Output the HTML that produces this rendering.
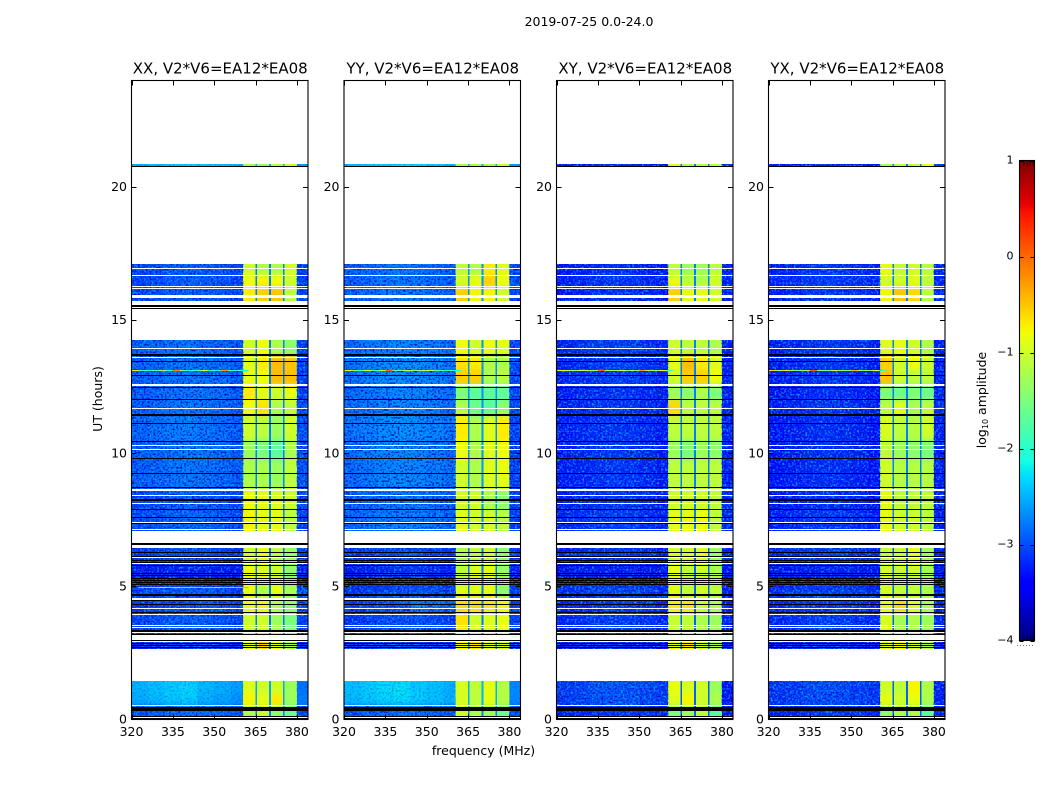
<!DOCTYPE html>
<html lang="en">
<head>
<meta charset="utf-8">
<title>2019-07-25 0.0-24.0</title>
<style>
  html, body { margin: 0; padding: 0; background: #fff; }
  #figure { display: block; width: 1050px; height: 800px; font-family: "DejaVu Sans", "Liberation Sans", sans-serif; }
  text { fill: #000; }
</style>
</head>
<body>
<svg id="figure" xmlns="http://www.w3.org/2000/svg" width="1050" height="800" viewBox="0 0 1050 800">
  <defs id="figure-defs">
    <filter id="grain-light" x="0" y="0" width="1" height="1" color-interpolation-filters="sRGB">
      <feTurbulence type="fractalNoise" baseFrequency="0.52" numOctaves="1" seed="3"/>
      <feColorMatrix type="matrix" values="0 0 0 0 0  0 0 0 0 0.62  0 0 0 0 1  3.6 0 0 0 -1.6"/>
    </filter>
    <filter id="grain-dark" x="0" y="0" width="1" height="1" color-interpolation-filters="sRGB">
      <feTurbulence type="fractalNoise" baseFrequency="0.52" numOctaves="1" seed="11"/>
      <feColorMatrix type="matrix" values="0 0 0 0 0  0 0 0 0 0.04  0 0 0 0 0.8  3.6 0 0 0 -1.7"/>
    </filter>
    <filter id="time-smooth" filterUnits="userSpaceOnUse" x="0" y="0" width="1050" height="800" color-interpolation-filters="sRGB">
      <feGaussianBlur stdDeviation="0 3"/>
    </filter>
  </defs>
  <rect x="0" y="0" width="1050" height="800" fill="#fff"/>
  <text x="589" y="26" font-size="12.5" text-anchor="middle">2019-07-25 0.0-24.0</text>
  <text x="483.5" y="755" font-size="12.5" text-anchor="middle">frequency (MHz)</text>
  <text x="0" y="0" font-size="12.5" text-anchor="middle" transform="translate(102 399) rotate(-90)">UT (hours)</text>
  <text x="0" y="0" font-size="12.5" text-anchor="middle" transform="translate(986 400) rotate(-90)">log<tspan font-size="8" dy="2">10</tspan><tspan dy="-2"> amplitude</tspan></text>
  <g id="panels"></g>
  <g id="colorbar"></g>
</svg>

<script>
// ---- chart data ----
const panelTitles = ["XX, V2*V6=EA12*EA08", "YY, V2*V6=EA12*EA08", "XY, V2*V6=EA12*EA08", "YX, V2*V6=EA12*EA08"];
const freqTicks = [320, 335, 350, 365, 380];
const hourTicks = [0, 5, 10, 15, 20];
const colorbarTicks = [1, 0, -1, -2, -3, -4];
const colorbarMinorTicks = [0.3, 0.5, 0.7, 0.9];

// frequency band edges (MHz) of the heatmap columns
const freqEdges = [320, 326, 332, 338, 344, 350, 356, 360.5, 364.9, 365.5, 369.9, 370.5, 374.9, 375.5, 380, 384];
// which slot of a row holds each column's value: low1 x3, low1/low2 x4, A, gap, B, gap, C, gap, D, right
const columnSlots = [0, 0, 0, 0, 1, 1, 1, 2, 7, 3, 7, 4, 7, 5, 6];
// bandpass shape added to each column (log10 amplitude)
const columnOffsets = [-0.08, -0.02, 0.05, 0.08, 0.06, 0.0, -0.08, 0, 0, 0, 0, 0, 0, 0, 0];

// time bands (hours) that contain data, bottom to top
const bandStarts = [0, 0.51, 0.95, 2.65, 3.29, 4.04, 4.56, 5.05, 5.80, 7.08, 7.87, 8.62, 9.75, 10.50, 11.44, 12.00, 12.56, 13.13, 13.69, 15.72, 16.24, 16.69, 20.77];
const bandEnds = [0.51, 0.95, 1.45, 3.29, 4.04, 4.56, 5.05, 5.80, 6.46, 7.87, 8.62, 9.75, 10.50, 11.44, 12.00, 12.56, 13.13, 13.69, 14.25, 16.24, 16.69, 17.11, 20.88];

// log10 amplitude per band: low1, low2, A, B, C, D, right, gap
const xxRows = [
  [-2.90,-2.90,-1.20,-1.00,-1.40,-1.60,-3.00,-2.75],
  [-2.42,-2.55,-0.75,-0.85,-0.70,-1.30,-2.75,-2.55],
  [-2.38,-2.50,-0.90,-1.00,-1.00,-1.30,-2.80,-2.55],
  [-3.20,-3.20,-0.90,-0.60,-0.90,-1.20,-3.20,-2.85],
  [-3.00,-3.00,-1.00,-1.00,-1.30,-1.50,-3.10,-2.80],
  [-3.10,-3.00,-0.85,-0.75,-1.20,-1.40,-3.00,-2.80],
  [-3.00,-3.00,-0.85,-1.20,-0.85,-1.20,-3.00,-2.80],
  [-3.40,-3.40,-0.80,-0.90,-1.00,-1.40,-3.30,-2.85],
  [-3.10,-3.10,-1.00,-0.85,-1.10,-1.30,-3.10,-2.80],
  [-2.95,-2.95,-0.75,-0.85,-0.85,-1.10,-3.10,-2.75],
  [-3.00,-3.00,-0.80,-0.85,-0.90,-1.00,-3.00,-2.75],
  [-2.85,-2.85,-1.20,-1.20,-1.30,-1.10,-3.00,-2.75],
  [-2.85,-2.85,-1.30,-1.50,-1.70,-1.20,-3.00,-2.75],
  [-2.80,-2.85,-1.00,-1.10,-1.30,-1.00,-3.00,-2.75],
  [-2.85,-2.85,-0.80,-0.65,-1.20,-1.10,-3.00,-2.75],
  [-2.85,-2.85,-0.70,-0.90,-1.00,-0.85,-3.10,-2.75],
  [-2.85,-2.85,-0.85,-0.80,-0.45,-0.45,-3.10,-2.75],
  [-2.85,-2.85,-0.90,-0.70,-0.45,-0.50,-3.10,-2.75],
  [-2.85,-2.90,-1.00,-0.80,-1.20,-1.40,-3.10,-2.75],
  [-3.00,-3.00,-0.70,-0.55,-0.50,-1.10,-3.10,-2.75],
  [-3.00,-3.00,-0.80,-0.75,-0.80,-1.00,-3.10,-2.75],
  [-3.00,-3.00,-1.00,-1.20,-1.20,-1.00,-3.10,-2.75],
  [-2.40,-2.40,-1.20,-1.30,-1.10,-1.00,-2.60,-2.50]
];
const yyRows = [
  [-2.90,-2.90,-1.00,-1.20,-1.30,-1.60,-3.00,-2.75],
  [-2.35,-2.40,-0.95,-1.10,-0.85,-1.15,-2.70,-2.50],
  [-2.32,-2.40,-0.95,-1.10,-0.85,-1.15,-2.70,-2.50],
  [-3.10,-3.10,-0.80,-0.65,-0.90,-1.00,-3.10,-2.80],
  [-3.10,-3.05,-0.65,-1.00,-0.90,-0.85,-3.10,-2.80],
  [-3.05,-2.80,-0.60,-0.60,-0.65,-0.75,-3.10,-2.75],
  [-3.10,-3.05,-0.90,-0.90,-0.85,-1.40,-3.10,-2.75],
  [-3.30,-3.25,-1.10,-0.90,-0.85,-1.30,-3.30,-2.80],
  [-3.10,-3.10,-1.20,-1.10,-1.00,-1.40,-3.10,-2.80],
  [-2.80,-2.80,-0.90,-1.00,-0.95,-1.10,-3.10,-2.65],
  [-2.85,-2.85,-1.00,-1.00,-1.20,-1.40,-3.10,-2.65],
  [-2.75,-2.75,-1.00,-1.20,-0.90,-0.85,-3.10,-2.65],
  [-2.75,-2.75,-0.80,-1.20,-0.90,-0.80,-3.10,-2.65],
  [-2.70,-2.70,-0.70,-1.20,-0.90,-0.70,-3.05,-2.65],
  [-2.75,-2.75,-1.20,-1.60,-1.70,-1.40,-3.05,-2.65],
  [-2.75,-2.75,-1.50,-1.70,-1.70,-1.70,-3.05,-2.65],
  [-2.70,-2.70,-0.55,-0.55,-1.20,-1.10,-3.05,-2.65],
  [-2.70,-2.70,-0.65,-0.70,-1.20,-1.20,-3.05,-2.65],
  [-2.75,-2.75,-0.80,-1.00,-0.80,-0.85,-3.05,-2.65],
  [-2.85,-2.85,-0.55,-0.75,-0.75,-1.00,-3.05,-2.65],
  [-2.85,-2.85,-1.00,-0.85,-0.55,-0.80,-3.05,-2.65],
  [-2.85,-2.85,-1.10,-1.20,-0.70,-0.90,-3.05,-2.65],
  [-2.35,-2.35,-1.20,-1.20,-1.20,-1.00,-2.60,-2.50]
];
const xyRows = [
  [-3.25,-3.20,-1.50,-1.30,-1.10,-1.70,-3.40,-2.90],
  [-3.05,-3.05,-0.90,-0.75,-1.00,-1.20,-3.40,-2.90],
  [-3.05,-3.05,-0.85,-0.95,-1.00,-1.30,-3.40,-2.90],
  [-3.30,-3.30,-0.90,-0.70,-1.00,-1.20,-3.30,-2.90],
  [-3.20,-3.20,-1.05,-1.10,-1.20,-1.30,-3.30,-2.90],
  [-3.25,-3.20,-0.70,-0.65,-1.00,-1.20,-3.30,-2.90],
  [-3.15,-3.15,-0.90,-1.10,-1.00,-1.10,-3.30,-2.90],
  [-3.45,-3.40,-0.85,-1.10,-1.00,-1.20,-3.40,-2.90],
  [-3.25,-3.25,-0.95,-1.00,-0.90,-1.30,-3.30,-2.90],
  [-3.20,-3.20,-0.85,-0.85,-0.80,-1.10,-3.25,-2.75],
  [-3.25,-3.25,-1.00,-1.00,-1.00,-1.10,-3.25,-2.75],
  [-3.25,-3.25,-1.10,-1.10,-1.10,-1.10,-3.30,-2.75],
  [-3.25,-3.25,-1.30,-1.50,-1.30,-1.40,-3.30,-2.75],
  [-3.25,-3.25,-1.10,-1.10,-1.10,-1.10,-3.30,-2.75],
  [-3.25,-3.25,-0.60,-1.10,-1.10,-1.10,-3.30,-2.75],
  [-3.25,-3.25,-1.30,-1.40,-1.20,-1.50,-3.30,-2.75],
  [-3.20,-3.20,-1.00,-0.55,-0.55,-0.80,-3.30,-2.75],
  [-3.20,-3.20,-0.85,-0.45,-0.70,-0.90,-3.30,-2.75],
  [-3.20,-3.20,-1.00,-1.10,-1.10,-1.20,-3.30,-2.75],
  [-3.30,-3.30,-0.55,-0.85,-0.85,-1.00,-3.30,-2.75],
  [-3.25,-3.25,-0.85,-1.10,-1.20,-1.00,-3.30,-2.75],
  [-3.30,-3.30,-1.10,-1.30,-1.30,-1.10,-3.30,-2.75],
  [-3.30,-3.30,-0.90,-1.20,-1.10,-1.10,-3.20,-2.75]
];
const yxRows = [
  [-3.25,-3.20,-1.40,-1.20,-1.20,-1.70,-3.30,-2.90],
  [-3.10,-3.10,-0.85,-1.00,-0.85,-1.20,-3.30,-2.90],
  [-3.10,-3.10,-1.00,-1.10,-0.75,-1.20,-3.30,-2.90],
  [-3.30,-3.30,-0.90,-0.80,-1.00,-1.20,-3.30,-2.90],
  [-3.20,-3.20,-0.95,-1.25,-1.20,-1.30,-3.30,-2.90],
  [-3.20,-3.20,-0.85,-0.60,-0.85,-1.20,-3.30,-2.90],
  [-3.15,-3.15,-1.00,-1.10,-1.10,-1.20,-3.30,-2.90],
  [-3.40,-3.35,-0.95,-1.05,-1.00,-1.25,-3.40,-2.90],
  [-3.20,-3.20,-1.05,-1.05,-0.85,-1.25,-3.30,-2.90],
  [-3.25,-3.25,-0.85,-1.00,-1.00,-1.10,-3.30,-2.75],
  [-3.30,-3.30,-0.85,-1.10,-1.10,-1.10,-3.30,-2.75],
  [-3.30,-3.30,-1.00,-1.15,-1.15,-1.15,-3.30,-2.75],
  [-3.30,-3.30,-1.10,-1.30,-1.40,-1.50,-3.30,-2.75],
  [-3.30,-3.30,-0.95,-1.10,-1.15,-1.00,-3.30,-2.75],
  [-3.25,-3.25,-1.10,-0.90,-1.20,-1.10,-3.20,-2.75],
  [-3.30,-3.30,-1.50,-1.60,-1.50,-1.60,-3.30,-2.75],
  [-3.25,-3.25,-0.50,-1.00,-1.10,-1.10,-3.30,-2.75],
  [-3.25,-3.25,-0.55,-1.00,-0.80,-1.00,-3.30,-2.75],
  [-3.25,-3.25,-0.90,-0.85,-1.00,-1.20,-3.30,-2.75],
  [-3.25,-3.25,-0.75,-0.50,-0.60,-1.10,-3.25,-2.75],
  [-3.20,-3.20,-1.00,-1.00,-0.90,-1.10,-3.25,-2.75],
  [-3.25,-3.25,-0.85,-1.10,-1.00,-1.10,-3.25,-2.75],
  [-3.30,-3.30,-1.20,-1.10,-1.10,-0.80,-3.10,-2.75]
];
const panelRows = [xxRows, yyRows, xyRows, yxRows];

// narrow interference rows: hours, plus values in 2.5 MHz steps from 320 MHz
const rfiHours = [13.11, 4.95];
const rfiFreqStart = 320;
const rfiFreqStep = 2.5;
const rfiXx = [
  [-0.7,-1.8,-2.0,-1.7,-1.2,-2.0,-0.1,-1.5,-2.0,-1.9,-1.0,-1.9,-2.0,-0.2,-1.9,-2.0,-2.1],
  [-3.0,-2.1,-2.0,-1.9,-1.0,-0.4,-1.4,-2.0,-2.1,-2.0,-2.0,-1.9,-0.6,-0.3,-2.0,-2.1,-2.2]
];
const rfiYy = [
  [-0.8,-1.3,-1.7,-0.9,-1.7,-1.2,0.0,-1.7,-1.5,-1.0,-1.4,-1.2,-0.9,-1.7,-1.8,-1.9,-2.0],
  [-3.0,-3.0,-3.0,-3.0,-3.0,-3.0,-3.0,-3.0,-3.0,-3.0,-3.0,-3.0,-3.0,-3.0,-3.0,-3.0,-3.0]
];
const rfiXy = [
  [-0.8,-1.0,-1.3,-1.0,-1.2,-1.2,0.1,-1.2,-1.3,-0.9,-1.3,-1.3,-0.3,-1.2,-1.2,-0.8,-1.9],
  [-3.2,-3.2,-3.2,-3.2,-3.2,-3.2,-3.2,-3.2,-3.2,-3.2,-3.2,-3.2,-3.2,-3.2,-3.2,-3.2,-3.2]
];
const rfiYx = [
  [-0.6,-1.2,-0.7,-1.4,-1.5,-1.2,0.1,-1.3,-1.6,-1.0,-1.4,-1.4,-0.4,-1.3,-1.3,-0.8,-2.0],
  [-3.2,-3.2,-3.2,-3.2,-3.2,-3.2,-3.2,-3.2,-3.2,-3.2,-3.2,-3.2,-3.2,-3.2,-3.2,-3.2,-3.2]
];
const panelRfi = [rfiXx, rfiYy, rfiXy, rfiYx];

// blank ranges and flagged rows, all in hours
const blankStarts = [2.99, 15.84];
const blankEnds = [3.16, 15.94];
const blackBandStarts = [0.32];
const blackBandEnds = [0.46];
const whiteFlagHours = [0.08, 0.53, 2.93, 3.27, 3.45, 3.53, 3.94, 4.17, 5.85, 6.08, 7.14, 7.40, 8.12, 8.42, 10.14, 10.29, 11.68, 13.59, 13.93, 16.19, 16.27, 16.68, 16.94];
const whiteFlagWideHours = [4.52, 8.62, 12.56];
const blackFlagHours = [0.04, 0.11, 2.70, 2.78, 2.85, 2.97, 3.19, 4.02, 4.32, 4.47, 5.07, 5.14, 5.22, 5.29, 5.40, 5.48, 5.78, 5.89, 5.97, 6.12, 6.27, 7.37, 7.59, 7.89, 8.72, 9.24, 9.80, 10.44, 11.12, 12.02, 12.47, 12.92, 13.44, 15.44, 20.77];
const blackFlagWideHours = [3.32, 4.69, 6.61, 8.25, 11.44, 13.69, 15.53];

// ---- layout and scales ----
const SVGNS = "http://www.w3.org/2000/svg";
const panelLefts = [131.5, 344, 556.5, 768.5];
const PANEL_WIDTH = 176.5;
const PANEL_TOP = 80.5;
const PANEL_BOTTOM = 719.5;
const FREQ_MIN = 320, FREQ_MAX = 384;
const HOUR_MIN = 0, HOUR_MAX = 24;
const AMP_MIN = -4, AMP_MAX = 1;
const CB_LEFT = 1019.5, CB_RIGHT = 1034.5, CB_TOP = 160.5, CB_BOTTOM = 640.5;

function xScale(left, f) { return left + (f - FREQ_MIN) / (FREQ_MAX - FREQ_MIN) * PANEL_WIDTH; }
function yScale(h) { return PANEL_BOTTOM - (h - HOUR_MIN) / (HOUR_MAX - HOUR_MIN) * (PANEL_BOTTOM - PANEL_TOP); }
function cbScale(v) { return CB_BOTTOM - (v - AMP_MIN) / (AMP_MAX - AMP_MIN) * (CB_BOTTOM - CB_TOP); }

function ramp(t, pts) {
  for (let i = 1; i < pts.length; i++) {
    if (t <= pts[i][0]) {
      const a = pts[i - 1], b = pts[i];
      return a[1] + (b[1] - a[1]) * (t - a[0]) / (b[0] - a[0]);
    }
  }
  return pts[pts.length - 1][1];
}
function jet(v) {
  const t = Math.max(0, Math.min(1, (v - AMP_MIN) / (AMP_MAX - AMP_MIN)));
  const r = ramp(t, [[0, 0], [0.35, 0], [0.66, 1], [0.89, 1], [1, 0.5]]);
  const g = ramp(t, [[0, 0], [0.125, 0], [0.375, 1], [0.64, 1], [0.91, 0], [1, 0]]);
  const b = ramp(t, [[0, 0.5], [0.11, 1], [0.34, 1], [0.65, 0], [1, 0]]);
  return "rgb(" + Math.round(r * 255) + "," + Math.round(g * 255) + "," + Math.round(b * 255) + ")";
}
function make(parent, tag, attrs) {
  const el = document.createElementNS(SVGNS, tag);
  for (const k in attrs) el.setAttribute(k, attrs[k]);
  parent.appendChild(el);
  return el;
}
function flagRow(parent, h, thickness, color, left) {
  const y = Math.round(yScale(h) - thickness / 2);
  return make(parent, "rect", { x: left, y: y, width: PANEL_WIDTH, height: thickness, fill: color });
}

// ---- panels ----
const panelsRoot = document.getElementById("panels");
const figureDefs = document.getElementById("figure-defs");
panelTitles.forEach(function (title, p) {
  const left = panelLefts[p];
  const rows = panelRows[p];
  const pg = make(panelsRoot, "g", {});
  
  

  const clip = make(figureDefs, "clipPath", { id: "bands-clip-" + p });
  const cells = make(pg, "g", { id: "cells-" + p, "shape-rendering": "crispEdges" });
  
  
  rows.forEach(function (row, b) {
    const yTop = Math.round(yScale(bandEnds[b]));
    const yBot = Math.round(yScale(bandStarts[b]));
    make(clip, "rect", { x: left, y: yTop, width: PANEL_WIDTH, height: yBot - yTop });
    columnSlots.forEach(function (slot, c) {
      const x0 = xScale(left, freqEdges[c]);
      const x1 = xScale(left, freqEdges[c + 1]);
      const cell = make(cells, "rect", { x: x0, y: yTop, width: x1 - x0, height: yBot - yTop, fill: jet(row[slot] + columnOffsets[c]) });
      
      
    });
  });

  // soften the steps between time bands, staying inside the bands that hold data
  const smoothClip = make(pg, "g", { "clip-path": "url(#bands-clip-" + p + ")" });
  
  
  const smooth = make(smoothClip, "use", { href: "#cells-" + p, filter: "url(#time-smooth)" });
  
  

  // receiver-noise speckle over the low-amplitude columns of each band
  const speckle = make(pg, "g", { "shape-rendering": "crispEdges" });
  
  
  rows.forEach(function (row, b) {
    const yTop = Math.round(yScale(bandEnds[b]));
    const yBot = Math.round(yScale(bandStarts[b]));
    [[0, 7], [14, 15]].forEach(function (span) {
      const gx0 = xScale(left, freqEdges[span[0]]);
      const gx1 = xScale(left, freqEdges[span[1]]);
      const strength = row[0] > -2.6 ? 0.3 : 1;
      ["grain-light", "grain-dark"].forEach(function (id) {
        const grain = make(speckle, "rect", { x: gx0, y: yTop, width: gx1 - gx0, height: yBot - yTop, fill: "#000", filter: "url(#" + id + ")", opacity: strength });
        
        
      });
    });
  });

  const rfi = make(pg, "g", { "shape-rendering": "crispEdges" });
  
  
  panelRfi[p].forEach(function (vals, r) {
    vals.forEach(function (v, i) {
      if (v <= -2.9) return;
      const f0 = rfiFreqStart + i * rfiFreqStep;
      const x0 = xScale(left, f0);
      const x1 = xScale(left, f0 + rfiFreqStep);
      const seg = make(rfi, "rect", { x: x0, y: Math.round(yScale(rfiHours[r]) - 0.5), width: x1 - x0, height: 1, fill: jet(v) });
      
      
    });
  });

  const flags = make(pg, "g", { "shape-rendering": "crispEdges" });
  
  
  blankStarts.forEach(function (h, i) {
    const yTop = Math.round(yScale(blankEnds[i]));
    const yBot = Math.round(yScale(h));
    const blank = make(flags, "rect", { x: left, y: yTop, width: PANEL_WIDTH, height: yBot - yTop, fill: "#fff" });
    
    
  });
  whiteFlagHours.forEach(function (h) {
    const el = flagRow(flags, h, 1, "#fff", left);
    
    
  });
  whiteFlagWideHours.forEach(function (h) {
    const el = flagRow(flags, h, 2, "#fff", left);
    
    
  });
  blackFlagHours.forEach(function (h) {
    const el = flagRow(flags, h, 1, "#000", left);
    
    
  });
  blackFlagWideHours.forEach(function (h) {
    const el = flagRow(flags, h, 2, "#000", left);
    
    
  });
  blackBandStarts.forEach(function (h, i) {
    const yTop = Math.round(yScale(blackBandEnds[i]));
    const yBot = Math.round(yScale(h));
    const band = make(flags, "rect", { x: left, y: yTop, width: PANEL_WIDTH, height: yBot - yTop, fill: "#000" });
    
    
  });

  const ticks = make(pg, "g", { stroke: "#000", "stroke-width": 1 });
  
  
  freqTicks.forEach(function (f) {
    const x = Math.round(xScale(left, f)) + 0.5;
    const t1 = make(ticks, "line", { x1: x, x2: x, y1: PANEL_BOTTOM, y2: PANEL_BOTTOM - 5 });
    
    
    const t2 = make(ticks, "line", { x1: x, x2: x, y1: PANEL_TOP, y2: PANEL_TOP + 5 });
    
    
    const lab = make(pg, "text", { x: xScale(left, f), y: 736, "font-size": 12.5, "text-anchor": "middle" });
    lab.textContent = f;
    
    
  });
  hourTicks.forEach(function (h) {
    const y = Math.round(yScale(h)) + 0.5;
    if (h > 0) {
      const t1 = make(ticks, "line", { x1: left, x2: left + 5, y1: y, y2: y });
      
      
      const t2 = make(ticks, "line", { x1: left + PANEL_WIDTH, x2: left + PANEL_WIDTH - 5, y1: y, y2: y });
      
      
    }
    const lab = make(pg, "text", { x: left - 4.5, y: yScale(h) + 4, "font-size": 12.5, "text-anchor": "end" });
    lab.textContent = h;
    
    
  });

  const spine = make(pg, "rect", { x: left, y: PANEL_TOP, width: PANEL_WIDTH, height: PANEL_BOTTOM - PANEL_TOP, fill: "none", stroke: "#000", "stroke-width": 1.1 });
  
  

  const ttl = make(pg, "text", { x: left + PANEL_WIDTH / 2 + 0.5, y: 73.5, "font-size": 15, "text-anchor": "middle" });
  ttl.textContent = title;
  
  
});

// ---- colorbar ----
const cbRoot = document.getElementById("colorbar");
const cbSteps = Math.round(CB_BOTTOM - CB_TOP);
const cbStrip = make(cbRoot, "g", { "shape-rendering": "crispEdges" });


for (let i = 0; i < cbSteps; i++) {
  const v = AMP_MIN + (i + 0.5) / cbSteps * (AMP_MAX - AMP_MIN);
  const seg = make(cbStrip, "rect", { x: CB_LEFT, y: Math.round(cbScale(v)), width: CB_RIGHT - CB_LEFT, height: 1, fill: jet(v) });
  
  
}
colorbarTicks.forEach(function (v) {
  const y = Math.round(cbScale(v)) + 0.5;
  const t1 = make(cbRoot, "line", { x1: CB_LEFT, x2: CB_LEFT + 4, y1: y, y2: y, stroke: "#000" });
  
  
  const t2 = make(cbRoot, "line", { x1: CB_RIGHT, x2: CB_RIGHT - 4, y1: y, y2: y, stroke: "#000" });
  
  
  const lab = make(cbRoot, "text", { x: 1013.5, y: cbScale(v) + 3, "font-size": 11, "text-anchor": "end" });
  lab.textContent = v < 0 ? "\u2212" + Math.abs(v) : String(v);
  
  
});
colorbarMinorTicks.forEach(function (frac) {
  const x = CB_LEFT + frac * (CB_RIGHT - CB_LEFT);
  const top = make(cbRoot, "line", { x1: x, x2: x, y1: CB_TOP, y2: CB_TOP + 5, stroke: "#000", "stroke-width": 0.7 });
  
  
  const bot = make(cbRoot, "line", { x1: x, x2: x, y1: CB_BOTTOM, y2: CB_BOTTOM - 5, stroke: "#000", "stroke-width": 0.7 });
  
  
});
const cbFrame = make(cbRoot, "rect", { x: CB_LEFT, y: CB_TOP, width: CB_RIGHT - CB_LEFT, height: CB_BOTTOM - CB_TOP, fill: "none", stroke: "#000", "stroke-width": 1.1 });


const cbDots = make(cbRoot, "line", { x1: 1017, x2: 1035, y1: 645.5, y2: 645.5, stroke: "#777", "stroke-width": 1, "stroke-dasharray": "1 2" });


</script>
</body>
</html>
